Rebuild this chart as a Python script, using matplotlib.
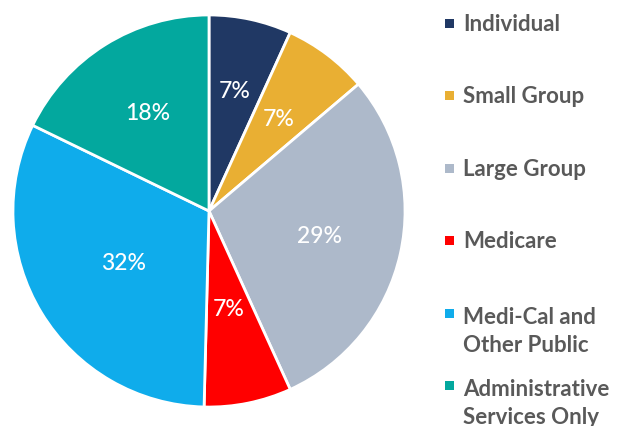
import matplotlib
matplotlib.use("Agg")
import numpy as np
import matplotlib.pyplot as plt
from matplotlib.patches import Rectangle

categories = ["Individual", "Small Group", "Large Group", "Medicare",
              "Medi-Cal and\nOther Public", "Administrative\nServices Only"]
values = [6.8, 7.0, 29.4, 7.2, 31.8, 17.8]
colors = ["#203864", "#E9AF33", "#ADB9CA", "#FF0000", "#0FACEB", "#03A89E"]
label_dist = [0.63, 0.59, 0.575, 0.51, 0.51, 0.59]

W, H = 620, 427
fig = plt.figure(figsize=(W / 100, H / 100), dpi=100)

# pie axes: center (209,212) px, radius 198 px
cx, cy, r = 209, 212, 198
ax = fig.add_axes([(cx - r) / W, (H - cy - r) / H, 2 * r / W, 2 * r / H])
wedges, texts, autotexts = ax.pie(
    values, colors=colors, startangle=90, counterclock=False,
    autopct=lambda p: f"{p:.0f}%", pctdistance=0.59,
    wedgeprops=dict(edgecolor="white", linewidth=2),
    textprops=dict(color="white", fontsize=16.5, family="Lato", fontweight="medium"))
for w, t, d in zip(wedges, autotexts, label_dist):
    th = np.deg2rad((w.theta1 + w.theta2) / 2)
    t.set_position((d * np.cos(th), d * np.sin(th)))
ax.set_xlim(-1.01, 1.01)
ax.set_ylim(-1.01, 1.01)
ax.set_aspect("equal")

# legend in pixel coordinates
lax = fig.add_axes([0, 0, 1, 1])
lax.set_xlim(0, W)
lax.set_ylim(H, 0)
lax.axis("off")
base0, step, lstep = 31, 72.4, 31
for i, (lab, col) in enumerate(zip(categories, colors)):
    yb = base0 + step * i
    nl = lab.count("\n")
    lax.add_patch(Rectangle((445, yb - 11), 9, 9, color=col, lw=0))
    lax.text(463, yb + lstep * nl, lab, va="baseline", ha="left", fontsize=16,
             family="Lato", fontweight="bold", color="#595959", linespacing=1.4)

fig.savefig("out.png", dpi=100)
